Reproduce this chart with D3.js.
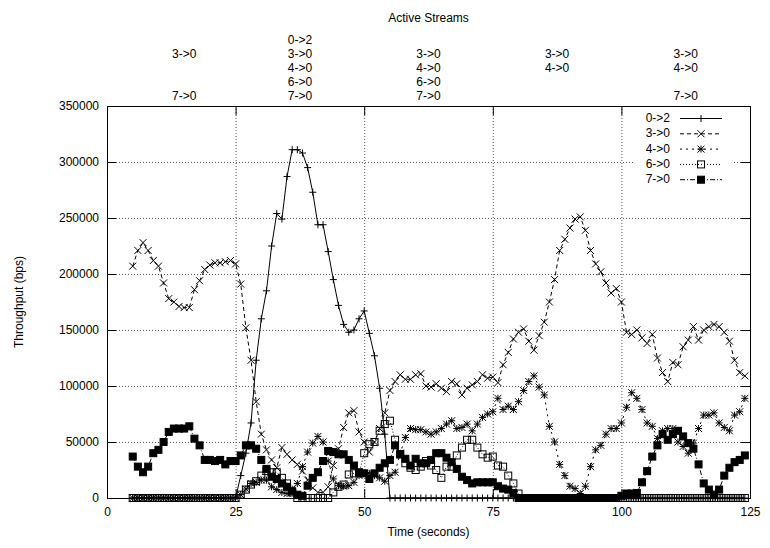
<!DOCTYPE html>
<html><head><meta charset="utf-8">
<script src="https://cdn.jsdelivr.net/npm/d3@7"></script>
<style>body{margin:0;background:#fff}text{font-family:"Liberation Sans",Arial,Helvetica,sans-serif;font-size:12px;fill:#000}</style>
</head><body><svg id="c" width="770" height="548"></svg>
<script>
const times = [5,6,7,8,9,10,11,12,13,14,15,16,17,18,19,20,21,22,23,24,25,
26,27,28,29,30,31,32,33,34,35,36,37,38,39,40,41,42,43,44,45,46,47,48,49,50,
51,52,53,54,55,56,57,58,59,60,61,62,63,64,65,66,67,68,69,70,71,72,73,74,75,
76,77,78,79,80,81,82,83,84,85,86,87,88,89,90,91,92,93,94,95,96,97,98,99,100,
101,102,103,104,105,106,107,108,109,110,111,112,113,114,115,116,117,118,119,120,121,122,123,124];

const s02 = [0,0,0,0,0,0,0,0,0,0,0,0,0,0,0,0,0,0,0,0,0,
20000,40000,67000,123000,160000,185000,225000,254000,249000,287000,311000,311000,308000,295000,273000,244000,244000,220000,195000,172000,155000,148000,150000,160000,167000,
147000,127000,98000,57000,0,0,0,0,0,0,0,0,0,0,0,0,0,0,0,0,0,0,0,0,0,
0,0,0,0,0,0,0,0,0,0,0,0,0,0,0,0,0,0,0,0,0,0,0,0,0,
0,0,0,0,0,0,0,0,0,0,0,0,0,0,0,0,0,0,0,0,0,0,0,0];

const s30 = [207000,221000,228000,221000,212000,207000,192000,178000,175000,171000,170000,170000,186000,194000,204000,208000,210000,210000,211000,212000,209000,
191000,152000,123000,86000,57000,43000,34000,27000,45000,39000,34000,30000,24000,16000,9000,5000,5000,10000,29000,44000,63000,76000,78000,59000,50000,
41000,50000,62000,76000,96000,104000,110000,106000,106000,110000,111000,100000,99000,102000,98000,95000,104000,102000,92000,98000,101000,104000,110000,107000,108000,
103000,119000,130000,142000,148000,151000,140000,132000,145000,157000,175000,195000,221000,231000,241000,249000,251000,239000,221000,209000,202000,192000,183000,187000,175000,
148000,146000,150000,143000,138000,146000,125000,112000,104000,121000,119000,135000,141000,153000,141000,150000,153000,155000,153000,148000,140000,123000,112000,109000];

const s40 = [0,0,0,0,0,0,0,0,0,0,0,0,0,0,0,0,0,0,0,0,0,
3000,8000,13000,14000,16000,16000,10000,7500,5000,4000,8000,13000,28000,41000,49000,55000,50000,33000,17000,11000,10500,11000,14000,20000,22000,
22000,20000,18000,15000,20000,23000,40000,54000,62000,61000,61000,59000,57000,59000,62000,66000,69000,62000,63000,66000,60000,66000,72000,75000,77000,
89000,79000,82000,79000,86000,96000,104000,109000,99000,92000,64000,50000,30000,20000,10500,8400,4000,10500,28000,43000,47000,57000,62000,62000,67000,
81000,94000,89000,79000,67000,64000,53000,60000,62000,62000,50000,46000,40000,49000,62000,74000,74000,76000,67000,63000,60000,74000,77000,89000];

const s60 = [0,0,0,0,0,0,0,0,0,0,0,0,0,0,0,0,0,0,0,0,0,
3000,7500,12000,15000,20000,24000,23000,23000,18000,13000,5000,0,0,0,0,0,0,0,5000,10000,12000,21000,22000,22000,40000,
48000,50000,60000,66000,69000,52000,39000,31000,27000,25000,28000,33000,29000,25000,18000,28000,28000,38000,45000,52000,52000,45000,39000,36000,37000,
29000,28000,20000,13000,4000,0,0,0,0,0,0,0,0,0,0,0,0,0,0,0,0,0,0,0,0,
0,0,0,0,0,0,0,0,0,0,0,0,0,0,0,0,0,0,0,0,0,0,0,0];

const s70 = [37000,28000,23000,28000,40000,43000,50000,59000,62000,62000,62000,64000,53000,47000,34000,34000,33000,34000,30000,33000,33000,
38000,47000,47000,44000,34000,26000,19000,17000,13000,10000,6000,3000,2000,11000,18000,23000,33000,42000,41000,39000,39000,34000,29000,23000,22000,
17000,22000,27000,31000,34000,47000,39000,35000,29000,35000,31000,31000,34000,40000,40000,36000,32000,26000,19000,16000,13000,14000,14000,14000,14000,
10500,8400,7500,4500,0,0,0,0,0,0,0,0,0,0,0,0,0,0,0,0,0,0,0,0,2000,
4000,4000,4500,14000,24000,37000,47000,57000,52000,57000,60000,55000,49000,44000,30000,13000,7500,3000,7500,20000,27000,32000,34000,38000];

const seriesNames = ["0->2","3->0","4->0","6->0","7->0"];
const seriesValues = [s02,s30,s40,s60,s70];
const xTicks = [0,25,50,75,100,125];
const yTicks = [0,50000,100000,150000,200000,250000,300000,350000];
const streamPositions = [15,37.5,62.5,87.5,112.5];
const streamLabels = [
  ["","3->0","","","7->0"],
  ["0->2","3->0","4->0","6->0","7->0"],
  ["","3->0","4->0","6->0","7->0"],
  ["","3->0","4->0","",""],
  ["","3->0","4->0","","7->0"]
];

const svg = d3.select("#c");
const L=107,R=750,T=106,B=498;
const x = d3.scaleLinear().domain([0,125]).range([L,R]);
const y = d3.scaleLinear().domain([0,350000]).range([B,T]);

// grid
const grid = svg.append("g").attr("stroke","#555").attr("stroke-width",1).attr("stroke-dasharray","1,2");
xTicks.slice(1,-1).forEach(t=>grid.append("line").attr("x1",x(t)+0.5).attr("x2",x(t)+0.5).attr("y1",T).attr("y2",B));
yTicks.slice(1,-1).forEach(v=>grid.append("line").attr("y1",Math.round(y(v))+0.5).attr("y2",Math.round(y(v))+0.5).attr("x1",L).attr("x2",R));

// axes
const fmt = d3.format("d");
const ax = (g)=>{g.select(".domain").remove(); g.selectAll(".tick line").attr("stroke","#000"); g.selectAll("text").style("font-family",'"Liberation Sans",Arial,sans-serif').style("font-size","12px").attr("fill","#000");};
svg.append("g").attr("transform",`translate(0,${B})`).call(d3.axisBottom(x).tickValues(xTicks).tickFormat(fmt).tickSizeInner(-9).tickSizeOuter(0).tickPadding(9)).call(ax);
svg.append("g").attr("transform",`translate(0,${T})`).call(d3.axisTop(x).tickValues(xTicks).tickFormat("").tickSizeInner(-9).tickSizeOuter(0)).call(ax);
svg.append("g").attr("transform",`translate(${L},0)`).call(d3.axisLeft(y).tickValues(yTicks).tickFormat(fmt).tickSizeInner(-9).tickSizeOuter(0).tickPadding(8)).call(ax);
svg.append("g").attr("transform",`translate(${R},0)`).call(d3.axisRight(y).tickValues(yTicks).tickFormat("").tickSizeInner(-9).tickSizeOuter(0)).call(ax);
svg.append("rect").attr("x",L+0.5).attr("y",T+0.5).attr("width",R-L).attr("height",B-T).attr("fill","none").attr("stroke","#000");

// titles
svg.append("text").attr("x",(L+R)/2).attr("y",536).attr("text-anchor","middle").text("Time (seconds)");
svg.append("text").attr("transform",`translate(23,${(T+B)/2}) rotate(-90)`).attr("text-anchor","middle").text("Throughput (bps)");
svg.append("text").attr("x",(L+R)/2).attr("y",22).attr("text-anchor","middle").text("Active Streams");
streamPositions.forEach((p,i)=>{
  streamLabels[i].forEach((s,j)=>{ if(s) svg.append("text").attr("x",x(p)).attr("y",44+j*14).attr("text-anchor","middle").text(s); });
});

// markers
const r=3.5;
const markers = [
  (g)=>g.append("path").attr("d",`M${-r},0H${r}M0,${-r}V${r}`).attr("stroke","#000").attr("fill","none"),
  (g)=>g.append("path").attr("d",`M${-r},${-r}L${r},${r}M${-r},${r}L${r},${-r}`).attr("stroke","#000").attr("fill","none"),
  (g)=>g.append("path").attr("d",`M${-r},0H${r}M0,${-r}V${r}M${-r},${-r}L${r},${r}M${-r},${r}L${r},${-r}`).attr("stroke","#000").attr("fill","none"),
  (g)=>g.append("rect").attr("x",-r).attr("y",-r).attr("width",2*r).attr("height",2*r).attr("stroke","#000").attr("fill","none"),
  (g)=>g.append("rect").attr("x",-r).attr("y",-r).attr("width",2*r).attr("height",2*r).attr("stroke","#000").attr("fill","#000")
];
const dashes = [null,"4,3","2,4","1,2","5,2,1,2"];
const line = d3.line().x((d,i)=>x(times[i])).y(d=>y(d));

seriesValues.forEach((vals,k)=>{
  const g = svg.append("g");
  g.append("path").attr("d",line(vals)).attr("fill","none").attr("stroke","#000").attr("stroke-width",1).attr("stroke-dasharray",dashes[k]);
  vals.forEach((v,i)=>{
    const m = g.append("g").attr("transform",`translate(${x(times[i])},${y(v)})`);
    markers[k](m);
  });
});

// legend
const lg = svg.append("g");
lg.append("rect").attr("x",634).attr("y",110).attr("width",98).attr("height",78).attr("fill","#fff");
seriesNames.forEach((n,k)=>{
  const yy = 118+k*15.3;
  lg.append("text").attr("x",670).attr("y",yy+4).attr("text-anchor","end").text(n);
  lg.append("line").attr("x1",680).attr("x2",722).attr("y1",yy+0.5).attr("y2",yy+0.5).attr("stroke","#000").attr("stroke-dasharray",dashes[k]);
  markers[k](lg.append("g").attr("transform",`translate(701,${yy+0.5})`));
});
</script></body></html>
